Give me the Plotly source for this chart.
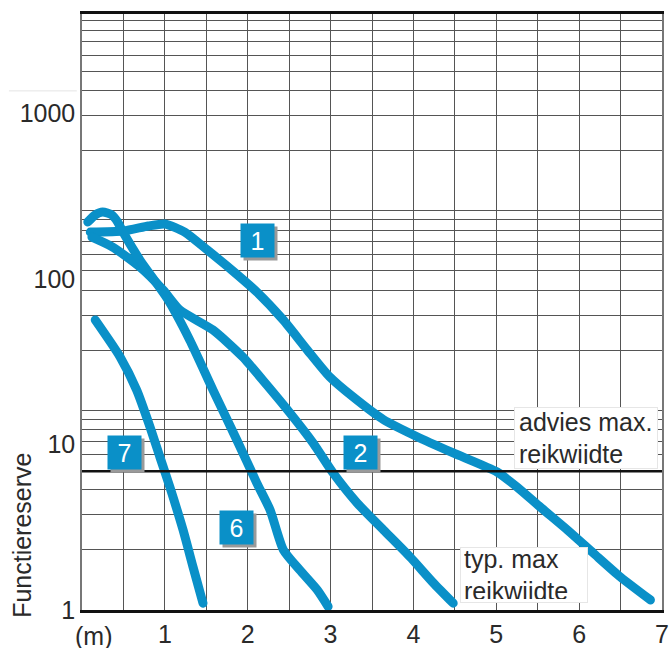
import math
import plotly.graph_objects as go

# ---------------- data ----------------
curve1_x = [0.10, 0.50, 0.80, 1.00, 1.24, 1.51, 1.81, 2.11, 2.43, 2.72, 2.99, 3.27, 3.64, 4.05, 4.48, 5.01, 5.25, 5.53, 5.86, 6.17, 6.50, 6.86]
curve1_y = [192, 195, 209, 215, 192, 150, 113, 83.5, 56.5, 37.2, 25.6, 19.4, 14.1, 11.1, 8.89, 6.82, 5.54, 4.19, 3.04, 2.21, 1.58, 1.15]

curve2_x = [0.12, 0.37, 0.70, 0.98, 1.18, 1.58, 1.94, 2.23, 2.51, 2.79, 3.03, 3.32, 3.64, 3.96, 4.24, 4.48]
curve2_y = [179, 156, 118, 85.8, 65, 49.2, 33.8, 22.9, 15.5, 10.2, 6.73, 4.43, 3.04, 2.09, 1.46, 1.10]

curve6_x = [0.07, 0.16, 0.25, 0.36, 0.43, 0.50, 0.70, 1.03, 1.30, 1.58, 1.87, 2.11, 2.27, 2.43, 2.63, 2.84, 2.97]
curve6_y = [221, 244, 254, 244, 221, 190, 130, 76, 42.8, 21.4, 10.6, 5.85, 4.02, 2.31, 1.74, 1.32, 1.05]

curve7_x = [0.16, 0.46, 0.66, 0.82, 0.94, 1.06, 1.22, 1.34, 1.46]
curve7_y = [56.5, 33.8, 21.3, 12.8, 8.4, 5.54, 3.04, 1.82, 1.10]

advies_x = [0, 7]
advies_y = [6.9, 6.9]

x_tick_vals = [0, 0.5, 1, 1.5, 2, 2.5, 3, 3.5, 4, 4.5, 5, 5.5, 6, 6.5, 7]
x_tick_text = ["", "", "1", "", "2", "", "3", "", "4", "", "5", "", "6", "", "7"]
y_tick_vals = [1, 10, 100, 1000]
y_tick_text = ["1", "10", "100", "1000"]
grid_vals = [m * 10 ** d for d in range(3) for m in range(1, 10)] + [1000]

badges = [("1", 2.118, 172), ("2", 3.367, 9.0), ("7", 0.507, 8.93), ("6", 1.865, 3.13)]

BLUE = "#0a90c8"
FONT = "Liberation Sans, Arial, sans-serif"
TXT = "#2a2a2a"

fig = go.Figure()
for xs, ys in [(curve1_x, curve1_y), (curve2_x, curve2_y), (curve6_x, curve6_y), (curve7_x, curve7_y)]:
    fig.add_trace(go.Scatter(x=xs, y=ys, mode="lines",
                             line=dict(color=BLUE, width=9, shape="spline", smoothing=0.6),
                             showlegend=False, hoverinfo="skip"))
fig.add_trace(go.Scatter(x=advies_x, y=advies_y, mode="lines",
                         line=dict(color="#111", width=2.5), showlegend=False, hoverinfo="skip"))
# empty trace so the grid axis exists
fig.add_trace(go.Scatter(x=[None], y=[None], yaxis="y2", showlegend=False, hoverinfo="skip"))

fig.update_layout(
    width=670, height=648,
    margin=dict(l=82, r=8, t=14, b=38, autoexpand=False),
    paper_bgcolor="white", plot_bgcolor="white",
    font=dict(family=FONT, size=25, color=TXT),
    xaxis=dict(range=[0, 7], tickvals=x_tick_vals, ticktext=x_tick_text, automargin=False,
               showgrid=True, gridcolor="#555", gridwidth=1,
               showline=True, linecolor="#111", linewidth=2.5, mirror=True,
               ticks="", zeroline=False, tickfont=dict(size=25, color=TXT)),
    yaxis=dict(type="log", range=[0, 3.601], tickvals=y_tick_vals, ticktext=y_tick_text,
               automargin=False,
               showgrid=False, showline=True, linecolor="#777", linewidth=1.5, mirror=True,
               ticks="", zeroline=False, tickfont=dict(size=25, color=TXT)),
    yaxis2=dict(type="log", range=[0, 2.985], overlaying="y", tickvals=grid_vals,
                automargin=False,
                showticklabels=False, showgrid=True, gridcolor="#555", gridwidth=1,
                ticks="", zeroline=False, showline=False),
)

annotations = [
    dict(text="(m)", x=0.14, y=-0.0436, xref="x", yref="paper", showarrow=False,
         xanchor="center", yanchor="middle", font=dict(size=25, color=TXT)),
    dict(text="Functiereserve", x=-0.1035, y=0.126, xref="paper", yref="paper",
         xanchor="center", yanchor="middle",
         showarrow=False, textangle=-90, font=dict(size=25, color=TXT)),
    dict(text="advies max.<br>reikwijdte", x=0.869, y=0.288, xref="paper", yref="paper",
         xanchor="center", yanchor="middle",
         showarrow=False, align="left", bgcolor="white", bordercolor="#e6e6e6", borderwidth=1,
         width=134, height=52, borderpad=4, font=dict(size=25, color=TXT)),
    dict(text="typ. max<br>reikwijdte", x=0.762, y=0.0587, xref="paper", yref="paper",
         xanchor="center", yanchor="middle",
         showarrow=False, align="left", bgcolor="white", bordercolor="#e6e6e6", borderwidth=1,
         width=120, height=48, borderpad=3, font=dict(size=25, color=TXT)),
]
for label, bx, by in badges:
    annotations.append(dict(text="", x=bx, y=math.log10(by), yref="y", xref="x", showarrow=False,
                            bgcolor="#9a9a9a", width=33, height=33, borderpad=0,
                            xshift=3, yshift=-3, font=dict(size=24)))
    annotations.append(dict(text=label, x=bx, y=math.log10(by), yref="y", xref="x", showarrow=False,
                            bgcolor=BLUE, width=33, height=33, borderpad=0,
                            font=dict(size=25, color="white")))
fig.update_layout(annotations=annotations)

fig.add_shape(type="line", xref="paper", yref="paper", x0=-0.126, x1=-0.009, y0=0.871, y1=0.871,
              line=dict(color="#e4e4e4", width=1))

post = ("document.body.style.margin='0';document.body.style.overflow='hidden';"
        "document.querySelectorAll('.scatterlayer .js-line').forEach(function(p){"
        "if(p.style.stroke.indexOf('10, 144')>=0||p.style.stroke.indexOf('10,144')>=0){p.style.strokeLinecap='round';}});")
fig.write_html("out.html", config={"displayModeBar": False}, post_script=post)
